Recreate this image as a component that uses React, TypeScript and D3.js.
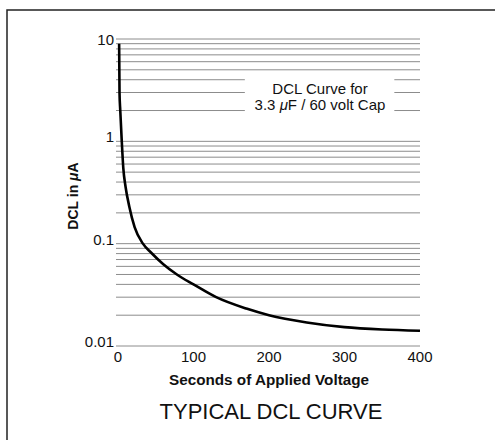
import React from 'react';
import * as d3 from 'd3';

// values
const seconds = [1.5, 2, 3, 5, 7, 10, 15, 22, 33, 44, 60, 78, 100, 130, 170, 200, 250, 300, 350, 400];
const dcl = [9, 3, 2, 1, 0.55, 0.36, 0.23, 0.145, 0.1, 0.0815, 0.063, 0.05, 0.04, 0.03, 0.0232, 0.02, 0.017, 0.0153, 0.0145, 0.0141];

const xTicks = [0, 100, 200, 300, 400];
const yTicks = [10, 1, 0.1, 0.01];
const yTickLabels = ['10', '1', '0.1', '0.01'];

const W = 495;
const H = 440;
const font = 'Liberation Sans, Arial, Helvetica, sans-serif';

export default function App() {
  const x = d3.scaleLinear().domain([0, 400]).range([118, 420]);
  const y = d3.scaleLog().domain([0.01, 10]).range([346, 39]);

  const grid = y.ticks();

  const line = d3.line<number>()
    .x((d, i) => x(seconds[i]))
    .y((d) => y(d))
    .curve(d3.curveMonotoneX);

  // white patch behind the note
  const box = { x0: x(168), x1: x(366), y0: y(4.6), y1: y(1.25) };

  return (
    <svg width={W} height={H} style={{ position: 'absolute', left: 0, top: 0, background: '#fff' }}>
      <rect x={0} y={0} width={W} height={H} fill="#fff" />
      {/* frame, cut off on the right and bottom */}
      <path d={`M7,${H} L7,10 L${W},10`} fill="none" stroke="#222" strokeWidth={1.5} />

      <g>
        {grid.map((v, i) => (
          <line key={i} x1={x(0) - 2} x2={x(400)} y1={y(v)} y2={y(v)} stroke="#8c8c8c" strokeWidth={1} />
        ))}
      </g>

      <rect x={box.x0} y={box.y0} width={box.x1 - box.x0} height={box.y1 - box.y0} fill="#fff" />
      <text x={320} y={94} textAnchor="middle" fontFamily={font} fontSize={15} fill="#111">DCL Curve for</text>
      <text x={320} y={110} textAnchor="middle" fontFamily={font} fontSize={15} fill="#111">
        3.3 <tspan fontStyle="italic">μ</tspan>F / 60 volt Cap
      </text>

      <path d={line(dcl) || ''} fill="none" stroke="#000" strokeWidth={2.6} />

      <g fontFamily={font} fontSize={15} fill="#111">
        {yTicks.map((v, i) => (
          <text key={i} x={114} y={y(v) + (i === 0 ? 6 : 1)} textAnchor="end">{yTickLabels[i]}</text>
        ))}
        {xTicks.map((v) => (
          <text key={v} x={x(v)} y={362} textAnchor="middle">{v}</text>
        ))}
      </g>

      <text x={269} y={385} textAnchor="middle" fontFamily={font} fontSize={14} fontWeight="bold" fill="#111"
        textLength={200} lengthAdjust="spacingAndGlyphs">Seconds of Applied Voltage</text>
      <text transform="translate(78,196) rotate(-90)" textAnchor="middle" fontFamily={font} fontSize={14}
        fontWeight="bold" fill="#111">DCL in <tspan fontStyle="italic">μ</tspan>A</text>

      <text x={271} y={419} textAnchor="middle" fontFamily={font} fontSize={22} fill="#111">TYPICAL DCL CURVE</text>
    </svg>
  );
}
